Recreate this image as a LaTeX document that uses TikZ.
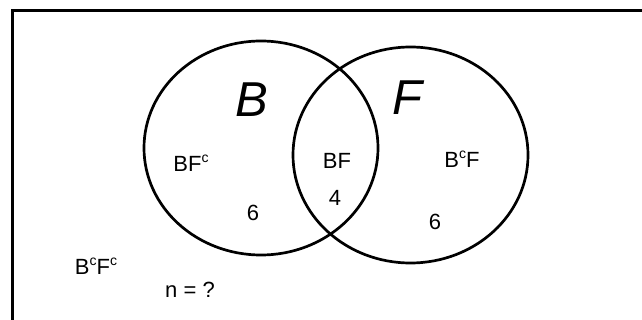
\documentclass[tikz,border=0pt]{standalone}
\usepackage{fontspec}
\setmainfont{Liberation Sans}
\usepackage{tikz}

\newcommand{\compl}{\raisebox{9.5pt}{\fontsize{14}{14}\selectfont c}}

\begin{document}
\begin{tikzpicture}[x=1pt, y=-1pt, line width=2.7pt,
            lbl/.style = {inner sep=0pt, font=\fontsize{22}{22}\selectfont},
            big/.style = {inner sep=0pt, font=\fontsize{49}{49}\selectfont\itshape}]
            \useasboundingbox (0,0) rectangle (642,320);
            % frame, cut at the right and bottom
            \draw[line width=3pt] (12,320) -- (12,11) -- (642,11);

            % the two sets
            \draw (261,148) ellipse [x radius=117, y radius=107];
            \draw (410.5,155) ellipse [x radius=117.5, y radius=108];

            \node[big] (B) at (252,100) {B};
            \node[big] (F) at (407,98) {F};

            \node[lbl] (BFc) at (191,163) {BF\compl};
            \node[lbl] (BF) at (337,161) {BF};
            \node[lbl] (BcF) at (462,159) {B\compl F};
            \node[lbl] (BcFc) at (96,266) {B\compl F\compl};

            \node[lbl] (nBF) at (335,198) {4};
            \node[lbl] (nBFc) at (253,213) {6};
            \node[lbl] (nBcF) at (435,222) {6};
            \node[lbl] (n) at (190,290) {n = ?};
        \end{tikzpicture}
\end{document}
